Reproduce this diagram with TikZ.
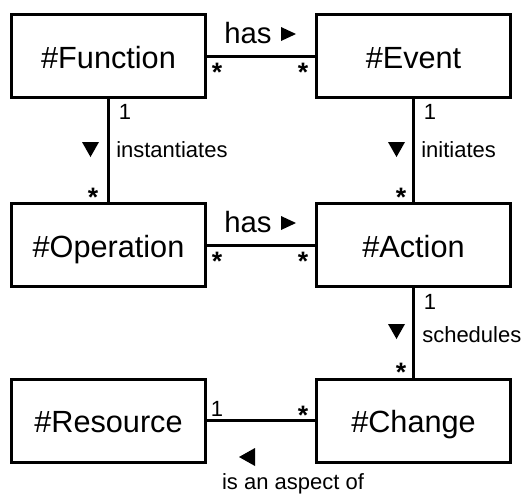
\documentclass[tikz,border=0pt]{standalone}
\usepackage{fontspec}
\setmainfont{Liberation Sans}
\begin{document}
\begin{tikzpicture}[x=0.75pt,y=-0.75pt,
  box/.style={draw,line width=2.25pt,minimum width=145.5pt,minimum height=62.25pt,
    inner sep=0pt,text height=18pt,text depth=0pt,font=\fontsize{23}{27}\selectfont},
  conn/.style={line width=2.25pt},
  lbl/.style={inner sep=0pt,font=\fontsize{16.5}{19}\selectfont},
  star/.style={inner sep=0pt,font=\fontsize{20}{23}\selectfont\bfseries},
  biglbl/.style={inner sep=0pt,font=\fontsize{22}{26}\selectfont},
  tri/.style={fill=black,draw=none}]
\useasboundingbox (0,0) rectangle (532,494);
% boxes
\node[box] (fun) at (108.5,56) {\#Function};
\node[box] (evt) at (413.5,56) {\#Event};
\node[box] (op)  at (108.5,245) {\#Operation};
\node[box] (act) at (413.5,245) {\#Action};
\node[box] (res) at (108.5,420.5) {\#Resource};
\node[box] (chg) at (413.5,420.5) {\#Change};
% connectors
\draw[conn] (fun.east) -- (evt.west);
\draw[conn] (op.east) -- (act.west);
\draw[conn] (res.east) -- (chg.west);
\draw[conn] (fun.south) -- (op.north);
\draw[conn] (evt.south) -- (act.north);
\draw[conn] (act.south) -- (chg.north);
% Function - Event
\node[biglbl,anchor=base west] (l1) at (224,43) {has};
\fill[tri] (281,27) -- (281,41) -- (296,34) -- cycle;
\node[star,anchor=north] (m1a) at (217,63) {*};
\node[star,anchor=north] (m1b) at (303,63) {*};
% Operation - Action
\node[biglbl,anchor=base west] (l2) at (224,232) {has};
\fill[tri] (281,216) -- (281,230) -- (296,223) -- cycle;
\node[star,anchor=north] (m2a) at (217,252) {*};
\node[star,anchor=north] (m2b) at (303,252) {*};
% Function - Operation
\node[lbl,anchor=north] (m3a) at (125,104) {1};
\fill[tri] (82,142) -- (99,142) -- (90.5,157) -- cycle;
\node[lbl,anchor=base west] (l3) at (116,157) {instantiates};
\node[star,anchor=north] (m3b) at (93,188) {*};
% Event - Action
\node[lbl,anchor=north] (m4a) at (430,104) {1};
\fill[tri] (388,142) -- (405,142) -- (396.5,157) -- cycle;
\node[lbl,anchor=base west] (l4) at (421,157) {initiates};
\node[star,anchor=north] (m4b) at (401,188) {*};
% Action - Change
\node[lbl,anchor=north] (m5a) at (430,294) {1};
\fill[tri] (388,324) -- (405,324) -- (396.5,339) -- cycle;
\node[lbl,anchor=base west] (l5) at (422,342) {schedules};
\node[star,anchor=north] (m5b) at (401,363) {*};
% Resource - Change
\node[lbl,anchor=north] (m6a) at (217,401) {1};
\node[star,anchor=north] (m6b) at (303,406) {*};
\fill[tri] (239,457) -- (255,448) -- (255,466) -- cycle;
\node[lbl,anchor=base] (l6) at (293,489) {is an aspect of};
\end{tikzpicture}
\end{document}
